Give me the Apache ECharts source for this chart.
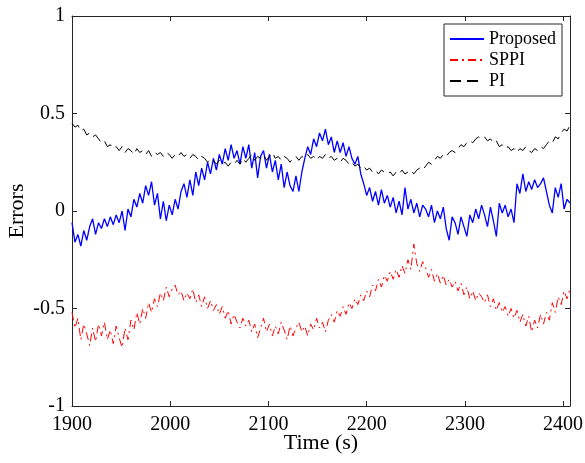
<!DOCTYPE html>
<html>
<head>
<meta charset="utf-8">
<script src="https://cdn.jsdelivr.net/npm/echarts@6/dist/echarts.min.js"></script>
<style>
  html, body { margin: 0; padding: 0; background: #fff; }
  #chart { width: 585px; height: 463px; }
</style>
</head>
<body>
<div id="chart"></div>
<script>
  // sampling grid of the recorded errors (s)
  var timeStart = 1900
  var timeStep = 3

  var proposed = [
    -0.06, -0.16, -0.12, -0.18, -0.10, -0.15, -0.08, -0.04, -0.12, -0.06,
    -0.09, -0.04, -0.08, -0.03, -0.07, -0.02, -0.06, 0.00, -0.10, 0.01,
    -0.03, 0.06, 0.02, 0.09, 0.04, 0.13, 0.08, 0.15, 0.03, 0.09,
    -0.04, 0.05, -0.05, 0.03, -0.02, 0.06, 0.01, 0.10, 0.14, 0.07,
    0.16, 0.08, 0.20, 0.13, 0.22, 0.16, 0.25, 0.19, 0.27, 0.21,
    0.29, 0.24, 0.32, 0.26, 0.34, 0.27, 0.31, 0.24, 0.33, 0.27,
    0.34, 0.22, 0.30, 0.17, 0.28, 0.31, 0.22, 0.29, 0.20, 0.26,
    0.16, 0.24, 0.12, 0.20, 0.13, 0.10, 0.18, 0.10, 0.20, 0.27,
    0.33, 0.29, 0.37, 0.33, 0.40, 0.36, 0.42, 0.34, 0.38, 0.30,
    0.36, 0.30, 0.35, 0.28, 0.33, 0.27, 0.24, 0.28, 0.19, 0.14,
    0.08, 0.12, 0.05, 0.10, 0.03, 0.11, 0.04, 0.08, 0.02, 0.07,
    -0.01, 0.05, -0.02, 0.12, 0.01, 0.06, -0.01, 0.04, -0.03, 0.03,
    0.01, -0.03, 0.03, -0.06, 0.00, -0.04, 0.02, -0.09, -0.15, -0.03,
    -0.06, -0.12, -0.03, -0.08, -0.13, -0.02, -0.06, 0.01, -0.04, 0.03,
    -0.02, -0.08, 0.02, -0.05, -0.13, 0.04, -0.01, 0.03, -0.03, 0.01,
    -0.06, 0.14, 0.09, 0.19, 0.10, 0.15, 0.11, 0.16, 0.12, 0.14,
    0.17, 0.10, 0.03, -0.01, 0.12, 0.07, 0.14, 0.01, 0.06, 0.04
  ]

  var sppi = [
    -0.52, -0.60, -0.55, -0.66, -0.58, -0.63, -0.69, -0.60, -0.67, -0.58,
    -0.64, -0.57, -0.66, -0.61, -0.68, -0.59, -0.65, -0.70, -0.60, -0.66,
    -0.56, -0.61, -0.52, -0.58, -0.50, -0.55, -0.47, -0.52, -0.45, -0.49,
    -0.42, -0.46, -0.39, -0.44, -0.40, -0.38, -0.43, -0.41, -0.46, -0.42,
    -0.45, -0.40, -0.47, -0.43, -0.49, -0.44, -0.50, -0.46, -0.51, -0.48,
    -0.53, -0.49, -0.55, -0.51, -0.58, -0.53, -0.57, -0.60, -0.55, -0.59,
    -0.56, -0.62, -0.58, -0.65, -0.60, -0.55, -0.62, -0.58, -0.64, -0.59,
    -0.63, -0.57, -0.61, -0.66, -0.59, -0.64, -0.60, -0.57, -0.62, -0.59,
    -0.64, -0.58, -0.61, -0.55, -0.60, -0.57, -0.62, -0.56, -0.53, -0.57,
    -0.51, -0.54, -0.49, -0.53, -0.47, -0.50, -0.45, -0.48, -0.43, -0.46,
    -0.41, -0.44, -0.38, -0.41, -0.35, -0.39, -0.33, -0.36, -0.31, -0.35,
    -0.30, -0.34, -0.28, -0.32, -0.25, -0.30, -0.17, -0.27, -0.31, -0.26,
    -0.29, -0.34, -0.30, -0.36, -0.32, -0.37, -0.33, -0.38, -0.35, -0.39,
    -0.36, -0.41, -0.37, -0.43, -0.39, -0.45, -0.41, -0.46, -0.42, -0.44,
    -0.47, -0.43, -0.49, -0.45, -0.51, -0.47, -0.52, -0.49, -0.54, -0.50,
    -0.55, -0.51, -0.57, -0.53, -0.59, -0.54, -0.62, -0.56, -0.60, -0.53,
    -0.58, -0.52, -0.56, -0.47, -0.52, -0.44, -0.48, -0.41, -0.45, -0.40
  ]

  var pi = [
    0.45, 0.43, 0.44, 0.41, 0.42, 0.39, 0.40, 0.38, 0.39, 0.37,
    0.35, 0.36, 0.33, 0.34, 0.32, 0.33, 0.31, 0.33, 0.30, 0.32,
    0.31, 0.29, 0.32, 0.30, 0.31, 0.29, 0.31, 0.28, 0.30, 0.29,
    0.30, 0.28, 0.30, 0.29, 0.27, 0.29, 0.28, 0.30, 0.28, 0.29,
    0.27, 0.29, 0.28, 0.26, 0.28, 0.27, 0.25, 0.27, 0.26, 0.24,
    0.26, 0.24, 0.25, 0.23, 0.25, 0.24, 0.26, 0.24, 0.27, 0.25,
    0.27, 0.29, 0.26, 0.28, 0.27, 0.29, 0.26, 0.28, 0.30, 0.27,
    0.28, 0.26, 0.28, 0.27, 0.25, 0.27, 0.28, 0.26, 0.28, 0.27,
    0.29, 0.27, 0.28, 0.26, 0.28, 0.27, 0.29, 0.27, 0.28, 0.26,
    0.27, 0.25, 0.27, 0.26, 0.24, 0.25, 0.23, 0.24, 0.22, 0.23,
    0.21, 0.22, 0.20, 0.21, 0.19, 0.21, 0.20, 0.19, 0.20, 0.18,
    0.20, 0.19, 0.21, 0.19, 0.20, 0.21, 0.19, 0.21, 0.22, 0.21,
    0.23, 0.25, 0.24, 0.26, 0.28, 0.27, 0.29, 0.28, 0.30, 0.31,
    0.30, 0.32, 0.34, 0.33, 0.35, 0.36, 0.35, 0.37, 0.38, 0.37,
    0.38, 0.36, 0.37, 0.35, 0.36, 0.33, 0.34, 0.32, 0.33, 0.31,
    0.32, 0.30, 0.32, 0.31, 0.33, 0.31, 0.30, 0.32, 0.31, 0.33,
    0.32, 0.34, 0.36, 0.35, 0.38, 0.37, 0.40, 0.42, 0.41, 0.44
  ]

  function withTime (values) {
    return values.map(function (v, i) { return [timeStart + timeStep * i, v] })
  }

  var font = 'Liberation Serif'
  var axisColor = '#262626'

  var option = {
    animation: false,
    textStyle: { fontFamily: font },
    grid: { left: 72, right: 15, top: 16, bottom: 57, outerBoundsMode: 'none' },
    legend: {
      orient: 'vertical',
      left: 444,
      top: 24,
      padding: [6, 6, 6, 5],
      itemGap: 3,
      itemWidth: 34,
      itemHeight: 14,
      backgroundColor: '#fff',
      borderColor: axisColor,
      borderWidth: 1,
      borderRadius: 0,
      itemStyle: { opacity: 0 },
      textStyle: { fontFamily: font, fontSize: 18, color: '#000' },
      data: ['Proposed', 'SPPI', 'PI']
    },
    xAxis: [
      {
        type: 'value',
        min: 1900,
        max: 2407,
        interval: 100,
        name: 'Time (s)',
        nameLocation: 'middle',
        nameGap: 26,
        nameMoveOverlap: false,
        nameTextStyle: { fontFamily: font, fontSize: 22, color: '#000' },
        axisLine: { onZero: false, lineStyle: { color: axisColor, width: 1 } },
        axisTick: { inside: true, length: 5, lineStyle: { color: axisColor } },
        axisLabel: {
          fontFamily: font,
          fontSize: 20,
          color: '#000',
          margin: 9,
          formatter: function (v) { return v % 100 === 0 ? String(v) : '' }
        },
        splitLine: { show: false }
      },
      {
        type: 'value',
        position: 'top',
        min: 1900,
        max: 2407,
        interval: 100,
        axisLine: { onZero: false, lineStyle: { color: axisColor, width: 1 } },
        axisTick: { inside: true, length: 5, lineStyle: { color: axisColor } },
        axisLabel: { show: false },
        splitLine: { show: false }
      }
    ],
    yAxis: [
      {
        type: 'value',
        min: -1,
        max: 1,
        interval: 0.5,
        name: 'Errors',
        nameLocation: 'middle',
        nameGap: 44,
        nameMoveOverlap: false,
        nameTextStyle: { fontFamily: font, fontSize: 22, color: '#000' },
        axisLine: { show: true, onZero: false, lineStyle: { color: axisColor, width: 1 } },
        axisTick: { show: true, inside: true, length: 5, lineStyle: { color: axisColor } },
        axisLabel: { fontFamily: font, fontSize: 20, color: '#000', margin: 7 },
        splitLine: { show: false }
      },
      {
        type: 'value',
        position: 'right',
        min: -1,
        max: 1,
        interval: 0.5,
        axisLine: { show: true, onZero: false, lineStyle: { color: axisColor, width: 1 } },
        axisTick: { show: true, inside: true, length: 5, lineStyle: { color: axisColor } },
        axisLabel: { show: false },
        splitLine: { show: false }
      }
    ],
    series: [
      {
        name: 'Proposed',
        type: 'line',
        symbol: 'none',
        lineStyle: { color: '#0000ff', width: 1.3 },
        itemStyle: { color: '#0000ff' },
        data: withTime(proposed)
      },
      {
        name: 'SPPI',
        type: 'line',
        symbol: 'none',
        lineStyle: { color: '#ff0000', width: 1, type: [8, 4, 2, 4] },
        itemStyle: { color: '#ff0000' },
        data: withTime(sppi)
      },
      {
        name: 'PI',
        type: 'line',
        symbol: 'none',
        lineStyle: { color: '#000000', width: 1, type: [11, 6] },
        itemStyle: { color: '#000000' },
        data: withTime(pi)
      }
    ]
  }

  var chart = echarts.init(document.getElementById('chart'))
  chart.setOption(option)
</script>
</body>
</html>
